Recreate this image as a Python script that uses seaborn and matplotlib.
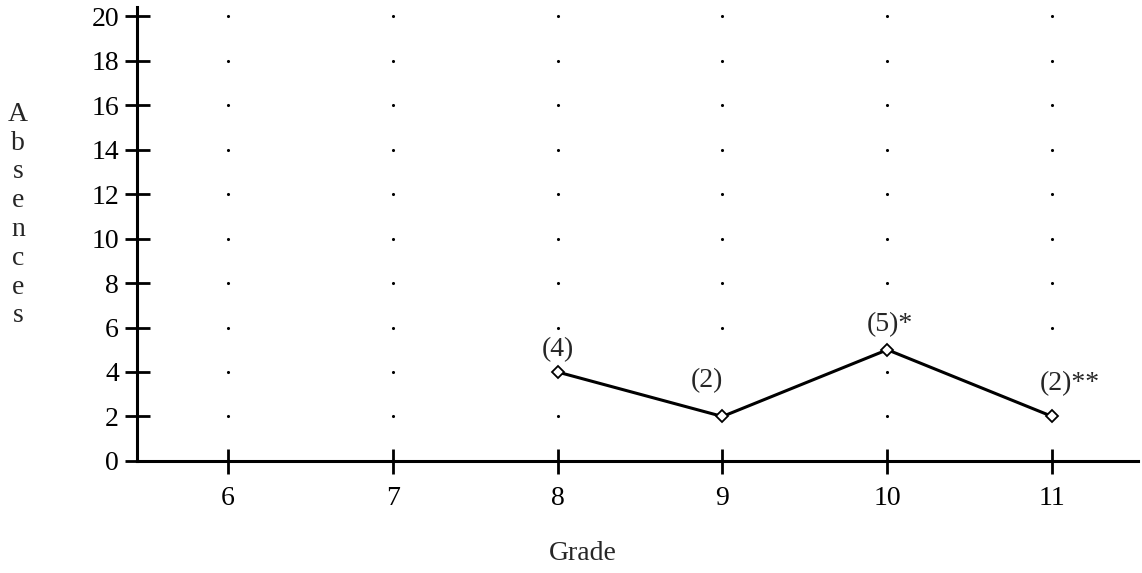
import numpy as np
import pandas as pd
import matplotlib.pyplot as plt
import seaborn as sns

# Data
grades = [8, 9, 10, 11]
absences = [4, 2, 5, 2]
point_labels = ["(4)", "(2)", "(5)*", "(2)**"]
grade_ticks = [6, 7, 8, 9, 10, 11]
absence_ticks = [0, 2, 4, 6, 8, 10, 12, 14, 16, 18, 20]

df = pd.DataFrame({"Grade": grades, "Absences": absences})

sns.set_style("white")
plt.rcParams["font.family"] = ["Liberation Serif", "DejaVu Serif"]

fig = plt.figure(figsize=(11.42, 5.73), dpi=100)
ax = fig.add_axes([0.12, 0.1955, 0.8765, 0.792])

# dotted background grid (one dot per grade / level)
gx, gy = np.meshgrid(grade_ticks, absence_ticks[1:])
ax.scatter(gx.ravel(), gy.ravel(), s=5, color="black", linewidths=0, zorder=1)

sns.lineplot(data=df, x="Grade", y="Absences", ax=ax, color="black",
             linewidth=2.2, marker="D", markersize=6, markerfacecolor="white",
             markeredgecolor="black", markeredgewidth=1.3, zorder=3)

offsets = [(0, 16), (-11, 26), (2, 18), (13, 24)]
for x, y, lab, off in zip(grades, absences, point_labels, offsets):
    ax.annotate(lab, (x, y), xytext=off, textcoords="offset points",
                ha="center", va="center", fontsize=20, zorder=4,
                bbox=dict(facecolor="white", edgecolor="none", pad=1))

ax.set_xlim(5.45, 11.52)
ax.set_ylim(0, 20.4)
ax.set_xticks(grade_ticks)
ax.set_yticks(absence_ticks)
ax.tick_params(bottom=True, left=True, direction="inout", length=18, width=2,
               labelsize=20, colors="black")
ax.tick_params(axis="x", pad=9)
ax.tick_params(axis="y", pad=4)

for s in ["top", "right"]:
    ax.spines[s].set_visible(False)
for s in ["left", "bottom"]:
    ax.spines[s].set_linewidth(2.2)
    ax.spines[s].set_color("black")

ax.set_xlabel("")
ax.set_ylabel("")
fig.text(583 / 1142, 1 - 553 / 573, "Grade", ha="center", va="center", fontsize=20)
fig.text(18 / 1142, 1 - 215 / 573, "\n".join("Absences"), ha="center", va="center",
         fontsize=20, linespacing=1.2)

fig.savefig("out.png", dpi=100)
